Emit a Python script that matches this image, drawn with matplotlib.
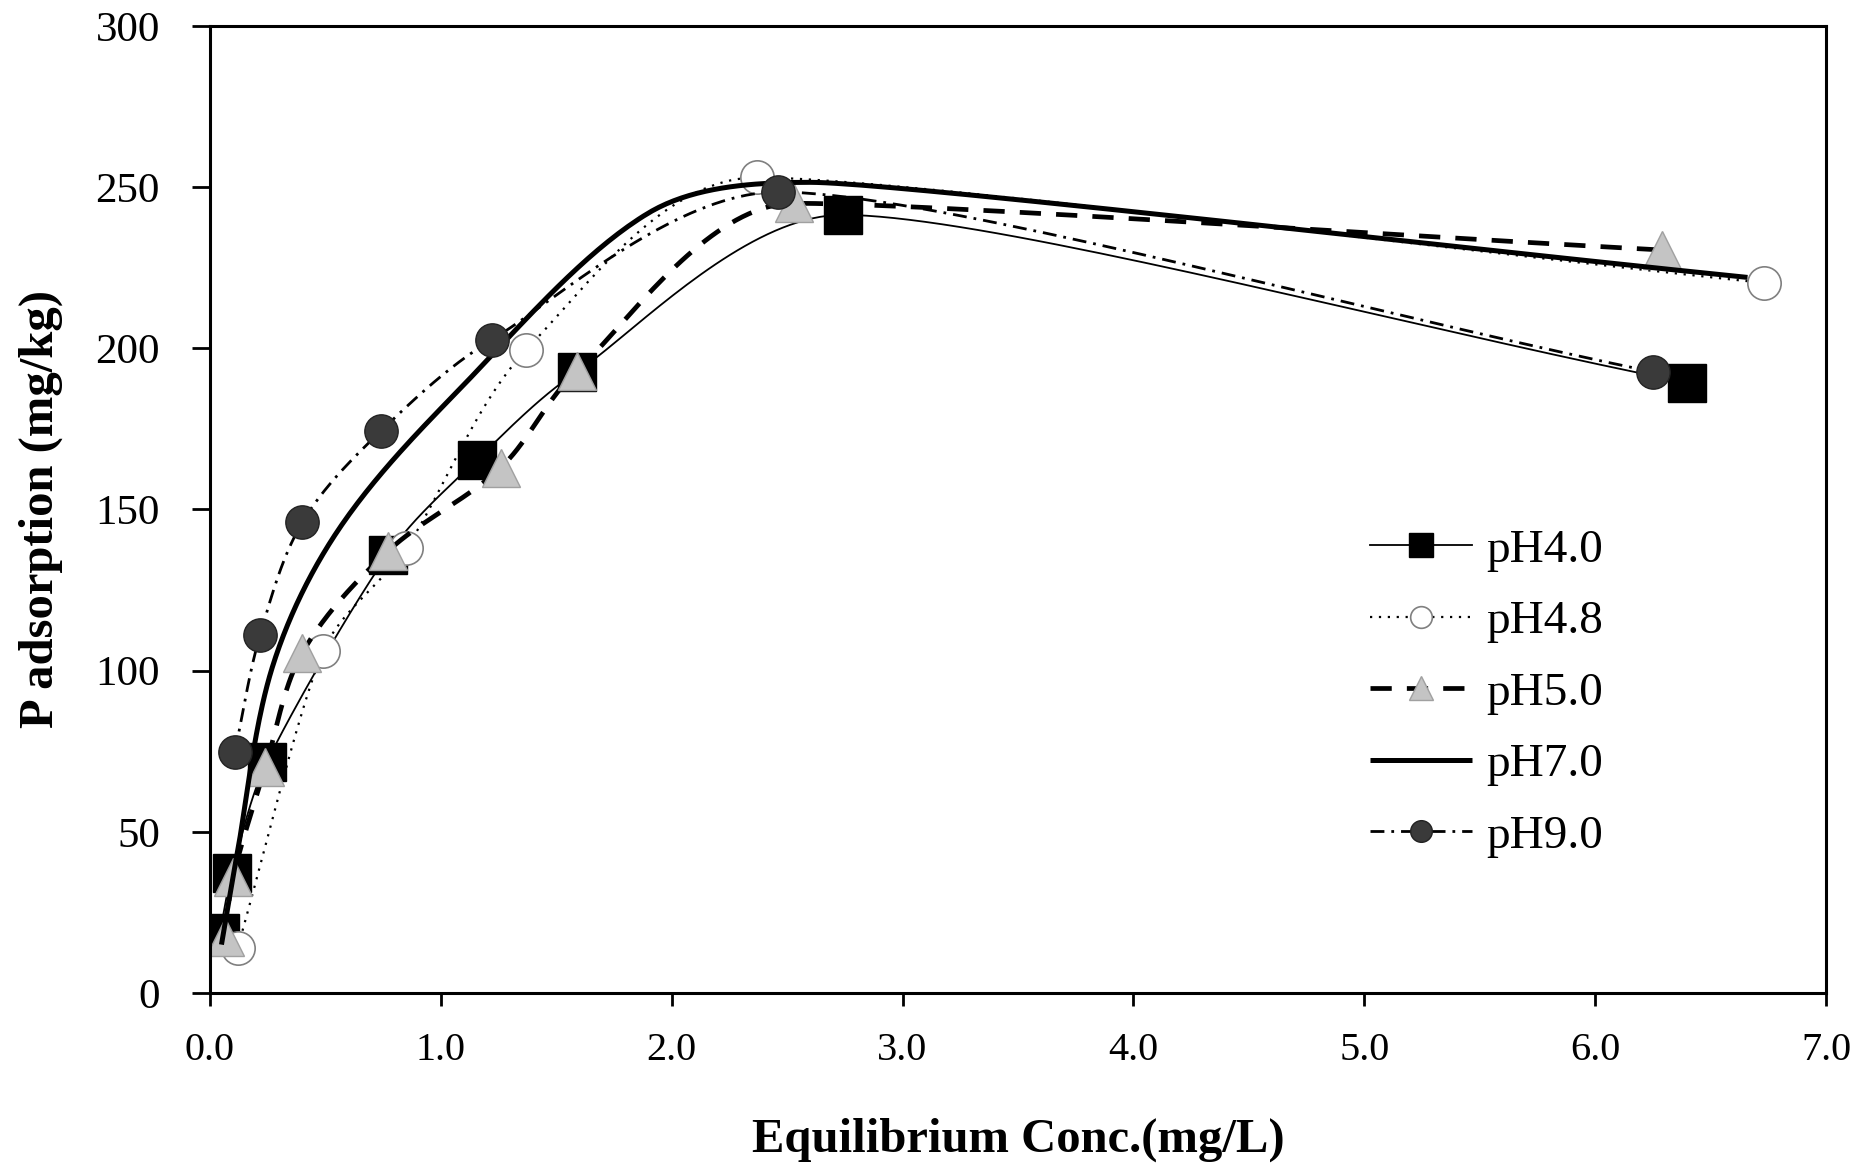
import numpy as np
import matplotlib
matplotlib.use("Agg")
import matplotlib.pyplot as plt

plt.rcParams['font.family'] = ['Liberation Serif', 'DejaVu Serif']

# values (Equilibrium Conc. mg/L, P adsorption mg/kg)
conc_ph40 = [0.043, 0.095, 0.247, 0.77, 1.156, 1.59, 2.74, 6.40]
p_ph40 = [18.6, 37.2, 71.7, 136, 165.4, 192.7, 241.4, 189.3]

conc_ph48 = [0.12, 0.49, 0.85, 1.37, 2.37, 6.73]
p_ph48 = [14, 106, 138, 199.5, 253, 220.3]

conc_ph50 = [0.065, 0.10, 0.24, 0.40, 0.77, 1.26, 1.59, 2.53, 6.29]
p_ph50 = [17.4, 36, 70, 105.5, 137, 163, 193, 245, 230.5]

conc_ph70 = [0.05, 0.12, 0.27, 0.55, 1.05, 1.9, 2.6, 6.66]
p_ph70 = [15, 44, 101, 143, 185, 242, 251.5, 222]

conc_ph90 = [0.108, 0.217, 0.40, 0.74, 1.22, 2.46, 6.25]
p_ph90 = [74.8, 111, 146, 174.3, 202.6, 248.5, 192.7]

labels = ['pH4.0', 'pH4.8', 'pH5.0', 'pH7.0', 'pH9.0']
x_ticks = [0, 1, 2, 3, 4, 5, 6, 7]
y_ticks = [0, 50, 100, 150, 200, 250, 300]

# pixel per data unit, only used to measure chord lengths for the smoothing
SX, SY = 1616 / 7.0, 967 / 300.0


#smoothed line like a spreadsheet chart: bezier segments, chord-length tangents,
#flat tangent where y turns round, handles capped next to a much shorter segment
def smooth(x, y, n=40):
    pts = np.column_stack([x, y]).astype(float)
    q = pts * [SX, SY]
    d = np.hypot(*np.diff(q, axis=0).T)
    k = len(pts)
    m = np.zeros_like(pts)
    m[0] = (pts[1] - pts[0]) / d[0]
    m[-1] = (pts[-1] - pts[-2]) / d[-1]
    for i in range(1, k - 1):
        m[i] = (pts[i + 1] - pts[i - 1]) / (d[i - 1] + d[i])
        if (pts[i, 1] - pts[i - 1, 1]) * (pts[i + 1, 1] - pts[i, 1]) <= 0:
            m[i, 1] = 0
    t = np.linspace(0, 1, n, endpoint=False)[:, None]
    out = []
    for i in range(k - 1):
        p1, p2 = pts[i], pts[i + 1]
        h1 = min(d[i], 1.5 * d[i - 1]) if i > 0 else d[i]
        h2 = min(d[i], 1.5 * d[i + 1]) if i + 1 < k - 1 else d[i]
        c1 = p1 + m[i] * h1 / 3
        c2 = p2 - m[i + 1] * h2 / 3
        seg = ((1 - t) ** 3) * p1 + 3 * ((1 - t) ** 2) * t * c1 + 3 * (1 - t) * t ** 2 * c2 + t ** 3 * p2
        out.append(seg)
    out.append(pts[-1][None, :])
    out = np.vstack(out)
    marks = list(range(0, n * (k - 1) + 1, n))
    return out[:, 0], out[:, 1], marks


fig = plt.figure(figsize=(18.61, 11.66), dpi=100)
ax = fig.add_axes([0.1128, 0.1484, 0.8684, 0.8293])

xs, ys, mk = smooth(conc_ph40, p_ph40)
ax.plot(xs, ys, color='black', lw=1.3, marker='s', markevery=mk, ms=27,
        mfc='black', mec='black', label=labels[0])

xs, ys, mk = smooth(conc_ph48, p_ph48)
ax.plot(xs, ys, color='black', lw=1.6, ls=(0, (1, 3)), marker='o', markevery=mk, ms=24,
        mfc='white', mec='#808080', mew=1.2, label=labels[1])

xs, ys, mk = smooth(conc_ph50, p_ph50)
ax.plot(xs, ys, color='black', lw=3.4, ls=(0, (4.5, 3.2)), marker='^', markevery=mk, ms=27,
        mfc='#c4c4c4', mec='#a0a0a0', mew=1, label=labels[2])

xs, ys, mk = smooth(conc_ph70, p_ph70)
ax.plot(xs, ys, color='black', lw=3.6, solid_capstyle='butt', label=labels[3])

xs, ys, mk = smooth(conc_ph90, p_ph90)
ax.plot(xs, ys, color='black', lw=2.0, ls=(0, (5, 2.5, 1, 2.5)), marker='o', markevery=mk, ms=24,
        mfc='#3a3a3a', mec='#222222', mew=1, label=labels[4])

ax.set_xlim(0, 7)
ax.set_ylim(0, 300)
ax.set_xticks(x_ticks)
ax.set_xticklabels([f'{v:.1f}' for v in x_ticks])
ax.set_yticks(y_ticks)
ax.set_yticklabels([str(v) for v in y_ticks])

for s in ax.spines.values():
    s.set_linewidth(2.2)
ax.tick_params(axis='x', direction='out', length=9, width=2, pad=19, labelsize=29)
ax.tick_params(axis='y', direction='out', length=13, width=2, pad=23, labelsize=31)

ax.set_xlabel('Equilibrium Conc.(mg/L)', fontsize=35, fontweight='bold', labelpad=35)
ax.set_ylabel('P adsorption (mg/kg)', fontsize=35, fontweight='bold')
ax.yaxis.set_label_coords(-0.091, 0.5)

ax.legend(loc='center left', bbox_to_anchor=(0.718, 0.31), frameon=False, fontsize=34,
          handlelength=2.15, handletextpad=0.3, labelspacing=0.6, markerscale=0.65,
          borderpad=0, borderaxespad=0)

fig.savefig('out.png', dpi=100)
